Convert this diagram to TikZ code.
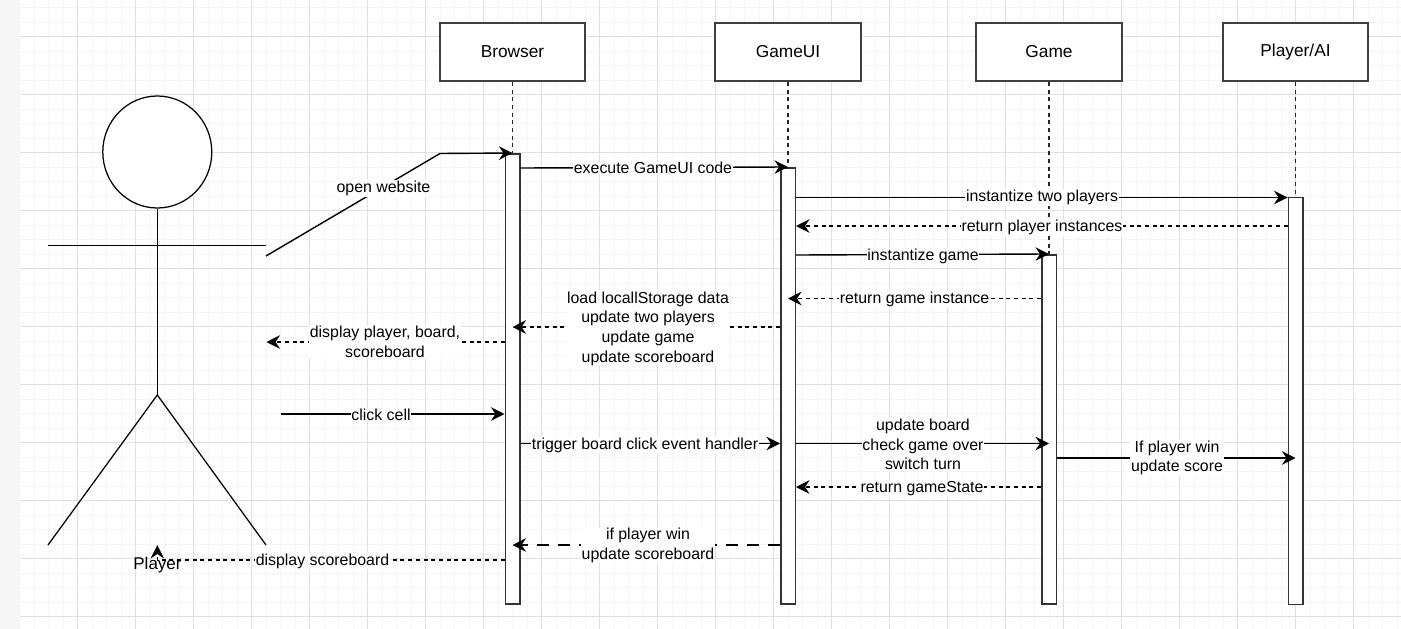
\documentclass[tikz,border=0pt]{standalone}
\usepackage{fontspec}
\setmainfont{Liberation Sans}
\usetikzlibrary{arrows.meta,shapes.geometric}
\tikzset{
 x=1pt,y=-1pt,
 box/.style={draw=black!75,line width=1.6pt,fill=white,minimum width=145.5pt,minimum height=58pt,inner sep=0pt,font=\fontsize{17.3}{20}\selectfont},
 bar/.style={draw=black!80,line width=1.5pt,fill=white,minimum width=14.5pt,inner sep=0pt},
 life/.style={draw=black!85,line width=1.2pt,dash pattern=on 4pt off 3.7pt},
 stick/.style={draw=black,line width=1.25pt},
 msg/.style={draw=black,line width=1.4pt,-{Stealth[length=13.5pt,width=13.5pt,inset=4.5pt]}},
 ret/.style={msg,dash pattern=on 4pt off 3.7pt,line width=1.1pt},
 retlong/.style={msg,dash pattern=on 12pt off 9pt,line width=1.1pt},
 lab/.style={fill=white,inner sep=0.6pt,align=center,font=\fontsize{15.9}{19.6}\selectfont},
}
\begin{document}
\begin{tikzpicture}
\useasboundingbox (0,0) rectangle (1401,629);
\fill[black!3] (0,0) rectangle (19,629);
\draw[black!12,line width=0.8pt] (19,0) -- (19,629);
\foreach \i in {0,...,95}{\draw[black!4,line width=0.7pt] ({19.7+14.5*\i},0) -- ({19.7+14.5*\i},629);}
\foreach \i in {0,...,43}{\draw[black!4,line width=0.7pt] (19.7,{7.7+14.5*\i}) -- (1401,{7.7+14.5*\i});}
\foreach \i in {1,...,23}{\draw[black!12,line width=0.8pt] ({19.7+58*\i},0) -- ({19.7+58*\i},629);}
\foreach \i in {0,...,10}{\draw[black!12,line width=0.8pt] (19.7,{36.7+58*\i}) -- (1401,{36.7+58*\i});}
% lifeline heads
\node[box] (browser) at (512.5,52) {\raisebox{-1.5pt}{Browser}};
\node[box] (gameui) at (788,52) {\raisebox{-1.5pt}{GameUI}};
\node[box] (game) at (1049,52) {\raisebox{-1.5pt}{Game}};
\node[box] (player) at (1295.5,52) {\raisebox{-1.5pt}{Player/AI}};
% activation bars
\node[bar,minimum height=450pt,anchor=north] (bbar) at (512.5,153) {};
\node[bar,minimum height=436pt,anchor=north] (ubar) at (788,167) {};
\node[bar,minimum height=349pt,anchor=north] (gbar) at (1049,254) {};
\node[bar,minimum height=407pt,anchor=north] (pbar) at (1295.5,196.5) {};
\draw[life] (browser.south) -- (bbar.north);
\draw[life] (gameui.south) -- (ubar.north);
\draw[life] (game.south) -- (gbar.north);
\draw[life] (player.south) -- (pbar.north);
% actor
\node[draw=black,line width=1.25pt,ellipse,fill=white,minimum width=109pt,minimum height=112pt,inner sep=0pt] (head) at (157.3,152) {};
\coordinate (hip) at (157.3,395);
\coordinate (armL) at (48,245.5);
\coordinate (armR) at (266,245.5);
\coordinate (footL) at (48,545);
\coordinate (footR) at (266,545);
\draw[stick] (head.south) -- (hip);
\draw[stick] (armL) -- (armR);
\draw[stick] (footL) -- (hip) -- (footR);
% free ends
\coordinate (openS) at (266,256);
\coordinate (openM) at (440,153.5);
\coordinate (dispE) at (266.5,342);
\coordinate (clickS) at (281,414);
\coordinate (scoreE) at (157.3,545);
\coordinate (scoreK) at (157.3,560);
% messages
\draw[msg] (openS) -- (openM) -- (bbar.north);
\node[lab] (l1) at (383.5,188.5) {open website};
\draw[msg] (bbar.east|-0,168) -- (ubar.north);
\node[lab] (l2) at (653,168) {execute GameUI code};
\draw[msg] (ubar.east|-0,197.5) -- (pbar.west|-0,197.5);
\node[lab] (l3) at (1042,197.5) {instantize two players};
\draw[ret] (pbar.west|-0,226) -- (ubar.east|-0,226);
\node[lab] (l4) at (1042,227.5) {return player instances};
\draw[msg] (ubar.east|-0,255) -- (gbar.north);
\node[lab] (l5) at (923,256) {instantize game};
\draw[ret] (gbar.west|-0,298.5) -- (ubar.center|-0,298.5);
\node[lab] (l6) at (914.5,299.5) {return game instance};
\draw[ret] (ubar.west|-0,327) -- (bbar.center|-0,327);
\node[lab] (l7) at (648,328.5) {load locallStorage data\\update two players\\update game\\update scoreboard};
\draw[ret] (bbar.west|-0,342) -- (dispE);
\node[lab] (l8) at (385,342) {display player, board,\\scoreboard};
\draw[msg] (clickS) -- (bbar.west|-0,414);
\node[lab] (l9) at (381,414.5) {click cell};
\draw[msg] (bbar.east|-0,443.5) -- (ubar.west|-0,443.5);
\node[lab] (l10) at (645,445) {trigger board click event handler};
\draw[msg] (ubar.east|-0,443.5) -- (gbar.center|-0,443.5);
\node[lab] (l11) at (923,444.5) {update board\\check game over\\switch turn};
\draw[msg] (gbar.east|-0,458) -- (pbar.center|-0,458);
\node[lab] (l12) at (1177,458) {If player win\\update score};
\draw[ret] (gbar.west|-0,487) -- (ubar.east|-0,487);
\node[lab] (l13) at (922,488.5) {return gameState};
\draw[retlong] (ubar.west|-0,545) -- (bbar.center|-0,545);
\node[lab] (l14) at (648,545.5) {if player win\\update scoreboard};
\draw[ret] (bbar.west|-0,560) -- (scoreK) -- (scoreE);
\node[lab] (l15) at (322.5,561) {display scoreboard};
\node[inner sep=0pt,font=\fontsize{17}{20}\selectfont] (actorlab) at (157.5,565.5) {Player};
\end{tikzpicture}
\end{document}
